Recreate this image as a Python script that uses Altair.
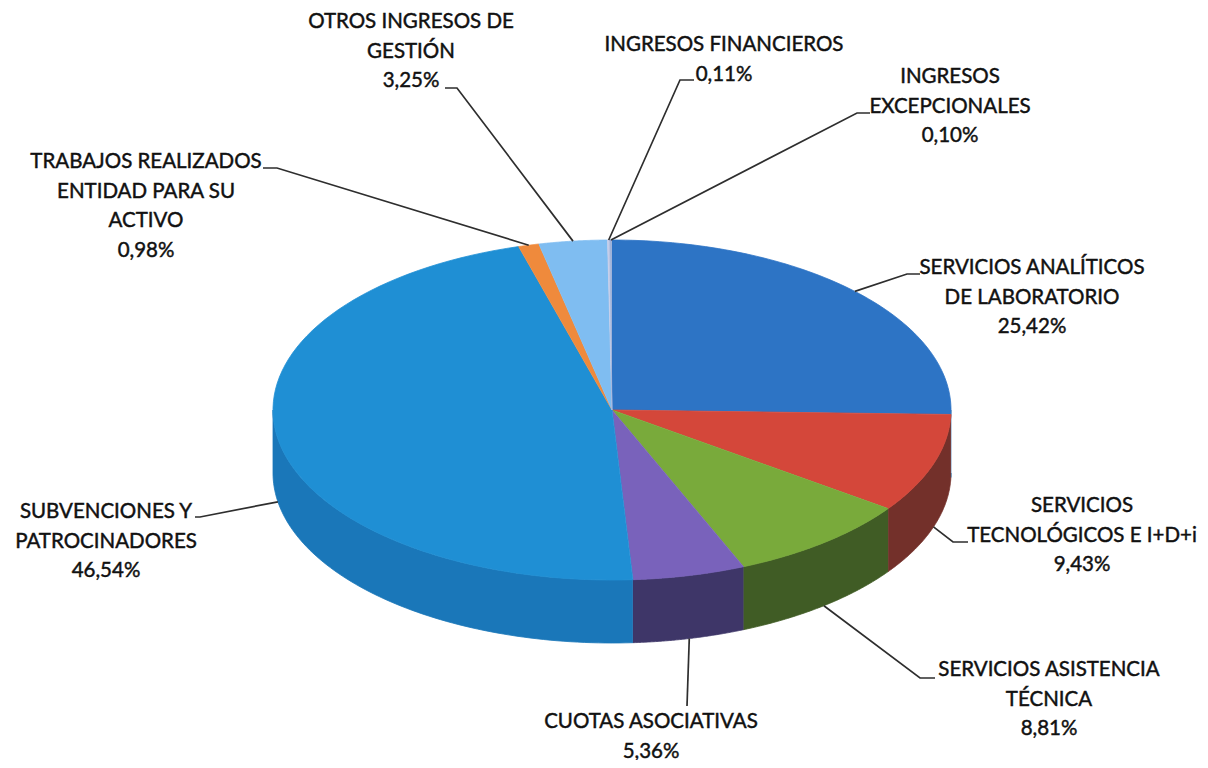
import altair as alt
import pandas as pd

# ---------------- data ----------------
categories = [
    "SERVICIOS ANALÍTICOS DE LABORATORIO",
    "SERVICIOS TECNOLÓGICOS E I+D+i",
    "SERVICIOS ASISTENCIA TÉCNICA",
    "CUOTAS ASOCIATIVAS",
    "SUBVENCIONES Y PATROCINADORES",
    "TRABAJOS REALIZADOS ENTIDAD PARA SU ACTIVO",
    "OTROS INGRESOS DE GESTIÓN",
    "INGRESOS FINANCIEROS",
    "INGRESOS EXCEPCIONALES",
]
values = [25.42, 9.43, 8.81, 5.36, 46.54, 0.98, 3.25, 0.11, 0.10]

label_lines = [
    ["SERVICIOS ANALÍTICOS", "DE LABORATORIO"],
    ["SERVICIOS", "TECNOLÓGICOS E I+D+i"],
    ["SERVICIOS ASISTENCIA", "TÉCNICA"],
    ["CUOTAS ASOCIATIVAS"],
    ["SUBVENCIONES Y", "PATROCINADORES"],
    ["TRABAJOS REALIZADOS", "ENTIDAD PARA SU", "ACTIVO"],
    ["OTROS INGRESOS DE", "GESTIÓN"],
    ["INGRESOS FINANCIEROS"],
    ["INGRESOS", "EXCEPCIONALES"],
]

# ---------------- styles / layout ----------------
top_colors = ["#2d74c5", "#d4473a", "#79aa3b", "#7962bb", "#1f8fd4",
              "#ef8a3c", "#7fbdf1", "#c5cde8", "#9fb3d9"]
side_colors = ["#1f5a9e", "#73302a", "#405c25", "#3e3668", "#1a77b9",
               "#b06025", "#5a90c0", "#9098b8", "#7080a8"]

label_x = [1032, 1082, 1049, 651, 106, 146, 411, 724, 950]
label_y = [268, 506, 670, 722, 512, 162, 22, 45, 77]
elbow_x = [907, 953, 920, 687, 200, 277, 457, 680, 857]
elbow_y = [274, 542, 678, 706, 517, 168, 88, 80, 113]
end_x = [920, 968, 935, 687, 195, 263, 445, 694, 870]
end_y = [274, 542, 678, 706, 517, 168, 88, 80, 113]

CX, CY, RX, RY, DEPTH = 612, 410, 339, 170, 63
N = 80
LH = 29.5
W, H = 1192, 752

xs = alt.Scale(domain=[8, 8 + W], nice=False, zero=False)
ys = alt.Scale(domain=[8, 8 + H], nice=False, zero=False, reverse=True)

df = pd.DataFrame({"cat": categories, "val": values, "idx": list(range(len(values)))})


def pie_base(data):
    return (
        alt.Chart(data)
        .transform_joinaggregate(total="sum(val)")
        .transform_window(cum="sum(val)", sort=[alt.SortField("idx")])
        .transform_calculate(a0="2*PI*(datum.cum - datum.val)/datum.total")
        .transform_calculate(a1="2*PI*datum.cum/datum.total")
    )


# side faces (front half only)
side = (
    pie_base(df)
    .transform_calculate(b0="max(datum.a0, PI/2)")
    .transform_calculate(b1="min(datum.a1, 3*PI/2)")
    .transform_filter("datum.b1 > datum.b0")
    .transform_calculate(s=f"sequence(0, {2 * N + 2})")
    .transform_flatten(["s"])
    .transform_calculate(
        t=f"datum.s <= {N} ? datum.b0 + (datum.b1 - datum.b0) * datum.s / {N} "
          f": datum.b1 - (datum.b1 - datum.b0) * (datum.s - {N + 1}) / {N}"
    )
    .transform_calculate(px=f"{CX} + {RX} * sin(datum.t)")
    .transform_calculate(py=f"{CY} - {RY} * cos(datum.t) + (datum.s > {N} ? {DEPTH} : 0)")
    .mark_line(strokeWidth=0.8, strokeJoin="round")
    .encode(
        x=alt.X("px:Q", scale=xs, axis=None),
        y=alt.Y("py:Q", scale=ys, axis=None),
        order=alt.Order("s:Q"),
        fill=alt.Fill("cat:N", scale=alt.Scale(domain=categories, range=side_colors), legend=None),
        stroke=alt.Stroke("cat:N", scale=alt.Scale(domain=categories, range=side_colors), legend=None),
    )
)

# top faces
top = (
    pie_base(df)
    .transform_calculate(s=f"sequence(0, {N + 2})")
    .transform_flatten(["s"])
    .transform_calculate(t=f"datum.a0 + (datum.a1 - datum.a0) * (datum.s - 1) / {N}")
    .transform_calculate(px=f"datum.s == 0 ? {CX} : {CX} + {RX} * sin(datum.t)")
    .transform_calculate(py=f"datum.s == 0 ? {CY} : {CY} - {RY} * cos(datum.t)")
    .mark_line(strokeWidth=0.8, strokeJoin="round")
    .encode(
        x=alt.X("px:Q", scale=xs, axis=None),
        y=alt.Y("py:Q", scale=ys, axis=None),
        order=alt.Order("s:Q"),
        fill=alt.Fill("cat:N", scale=alt.Scale(domain=categories, range=top_colors), legend=None),
        stroke=alt.Stroke("cat:N", scale=alt.Scale(domain=categories, range=top_colors), legend=None),
    )
)

# leader lines
lead_df = df.assign(ex=elbow_x, ey=elbow_y, lx=end_x, ly=end_y)
leaders = (
    pie_base(lead_df)
    .transform_calculate(m="(datum.a0 + datum.a1) / 2")
    .transform_calculate(s="sequence(0, 3)")
    .transform_flatten(["s"])
    .transform_calculate(
        px=f"datum.s == 0 ? {CX} + {RX} * sin(datum.m) : (datum.s == 1 ? datum.ex : datum.lx)"
    )
    .transform_calculate(
        py=f"datum.s == 0 ? {CY} - {RY} * cos(datum.m) + (cos(datum.m) < 0 ? {DEPTH} : 0) "
           f": (datum.s == 1 ? datum.ey : datum.ly)"
    )
    .mark_line(color="#2e2e2e", strokeWidth=1.7)
    .encode(
        x=alt.X("px:Q", scale=xs, axis=None),
        y=alt.Y("py:Q", scale=ys, axis=None),
        order=alt.Order("s:Q"),
        detail="cat:N",
    )
)

# labels
rows = []
for i, cat in enumerate(categories):
    pct = f"{values[i]:.2f}".replace(".", ",") + "%"
    for j, line in enumerate(label_lines[i] + [pct]):
        rows.append({"cat": cat, "text": line, "tx": label_x[i], "ty": label_y[i] + j * LH})
text_df = pd.DataFrame(rows)

labels = (
    alt.Chart(text_df)
    .mark_text(font="Lato", fontSize=20.5, color="#111111", stroke="#111111",
               strokeWidth=0.45, align="center", baseline="middle")
    .encode(
        x=alt.X("tx:Q", scale=xs, axis=None),
        y=alt.Y("ty:Q", scale=ys, axis=None),
        text="text:N",
    )
)

chart = (
    alt.layer(side, top, leaders, labels)
    .resolve_scale(fill="independent", stroke="independent")
    .properties(width=W, height=H, padding=0, autosize=alt.AutoSizeParams(type="none"),
                background="white")
    .configure_view(strokeWidth=0)
)

chart.save("out.html", embed_options={"renderer": "svg", "actions": False})
